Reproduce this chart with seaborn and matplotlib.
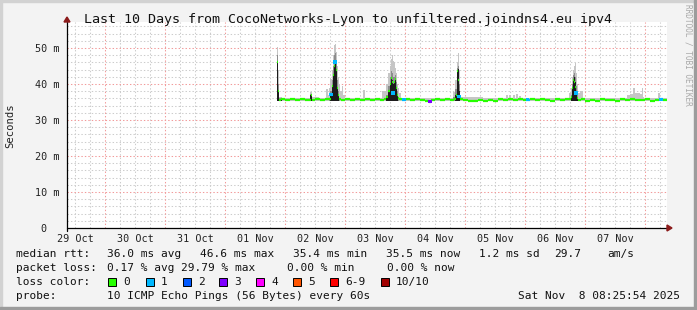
import numpy as np
import pandas as pd
import matplotlib
matplotlib.use("Agg")
import matplotlib.pyplot as plt
from matplotlib.patches import Rectangle, Polygon
from matplotlib.lines import Line2D
import seaborn as sns

# ---------------- data ----------------
TITLE = "Last 10 Days from CocoNetworks-Lyon to unfiltered.joindns4.eu ipv4"
day_labels = ["29 Oct", "30 Oct", "31 Oct", "01 Nov", "02 Nov",
              "03 Nov", "04 Nov", "05 Nov", "06 Nov", "07 Nov"]
label_hours = [-60, -36, -12, 12, 36, 60, 84, 108, 132, 156]   # noon of each day, hours from 01 Nov 00:00
x_range = [-63.2, 176.8]
y_max = 57.2
y_ticks = [0, 10, 20, 30, 40, 50]
y_tick_labels = ["0  ", "10 m", "20 m", "30 m", "40 m", "50 m"]

# median rtt (ms) and number of lost pings, hours since 01 Nov 00:00
med_h = [20.9, 21.3, 21.7, 23, 25, 27, 29, 31, 33, 34.0, 34.4, 35.2, 37, 39, 41, 42.0,
         42.4, 42.8, 43.2, 43.6, 44.0, 44.4, 44.8, 45.2, 45.6, 47, 49, 51, 53, 55, 57,
         59, 61, 63, 64.0, 64.8, 65.6, 66.0, 66.4, 66.8, 67.2, 67.6, 68.0, 68.4, 68.8,
         69.2, 70.0, 71.6, 73, 75, 77, 79, 81, 82, 83, 85, 87, 89, 91, 92.0, 92.4, 92.8,
         93.2, 93.6, 94.4, 96, 98, 100, 102, 104, 106, 108, 110, 112, 114, 116, 118, 120,
         121, 123, 125, 127, 129, 131, 133, 135, 137, 138.0, 138.4, 138.8, 139.2, 139.6,
         140.0, 140.4, 140.8, 141.6, 143, 145, 147, 149, 151, 153, 155, 157, 159, 161,
         163, 165, 167, 169, 171, 173, 174.4, 176, 176.8]
med_ms = [46.1, 38.0, 35.6, 35.7, 35.5, 35.8, 35.6, 35.7, 35.5, 35.6, 36.8, 35.6, 35.8, 35.5, 35.7, 35.9,
          37.0, 39.3, 42.5, 45.0, 46.1, 44.0, 39.0, 37.0, 35.7, 35.6, 35.8, 35.5, 35.7, 35.6, 35.9,
          35.6, 35.7, 35.5, 35.9, 36.5, 38.0, 40.0, 41.7, 40.5, 37.5, 40.5, 41.5, 39.0, 37.0,
          36.0, 35.7, 35.6, 35.8, 35.5, 35.7, 35.6, 35.4, 35.1, 35.6, 35.7, 35.5, 35.8, 35.6, 35.9, 37.0, 43.7,
          41.0, 36.4, 35.7, 35.6, 35.4, 35.3, 35.5, 35.2, 35.6, 35.4, 35.7, 35.5, 35.8, 35.6, 35.7, 35.5,
          35.6, 35.8, 35.5, 35.7, 35.6, 35.4, 35.7, 35.5, 35.8, 35.9, 36.5, 39.0, 41.0, 40.5,
          39.2, 37.5, 36.0, 35.6, 35.7, 35.4, 35.6, 35.3, 35.7, 35.5, 35.6, 35.4, 35.7, 35.5,
          35.8, 35.6, 35.5, 35.7, 35.4, 35.6, 35.7, 35.5, 35.6]
med_loss = [0, 0, 0, 0, 0, 0, 0, 0, 0, 0, 0, 0, 0, 0, 0, 0,
            1, 0, 0, 0, 1, 0, 0, 0, 0, 0, 0, 0, 0, 0, 0,
            0, 0, 0, 0, 0, 0, 0, 0, 0, 1, 0, 0, 0, 0,
            0, 0, 1, 0, 0, 0, 0, 0, 3, 0, 0, 0, 0, 0, 0, 0, 0,
            0, 1, 0, 0, 0, 0, 0, 0, 0, 0, 0, 0, 0, 0, 0, 0,
            1, 0, 0, 0, 0, 0, 0, 0, 0, 0, 0, 0, 0, 0,
            0, 1, 0, 0, 0, 0, 0, 0, 0, 0, 0, 0, 0, 0,
            0, 0, 0, 0, 0, 0, 1, 0, 0]

# smoke (spread of the 10 pings), ms
smoke_h = [20.9, 21.3, 21.7, 24.0, 33.6, 34.4, 35.2, 40.0, 40.8, 41.2,
           41.6, 42.4, 42.8, 43.2, 43.6, 44.0, 44.4, 44.8, 45.2, 45.6,
           46.4, 46.8, 47.6, 48.4, 55.0, 55.6, 56.2, 62.0, 63.6, 64.8,
           65.6, 66.0, 66.4, 66.8, 67.2, 67.6, 68.0, 68.4, 68.8, 69.2,
           70.0, 71.0, 90.8, 91.6, 92.4, 92.8, 93.2, 93.6, 94.4, 112.0,
           112.8, 113.2, 114.0, 114.4, 115.6, 116.0, 116.8, 117.2, 118.0, 118.4,
           137.0, 138.0, 138.4, 138.8, 139.2, 139.6, 140.0, 140.4, 140.8, 141.6,
           142.4, 143.6, 160.0, 161.2, 162.4, 163.6, 164.0, 165.2, 166.4, 166.8,
           167.2, 168.0, 173.0, 173.6, 174.2, 176.8]
smoke_lo = [35.4, 35.4, 35.4, 35.4, 35.4, 35.3, 35.4, 35.4, 35.4, 35.4,
            35.4, 35.4, 35.4, 35.4, 35.4, 35.4, 35.4, 35.4, 35.4, 35.4,
            35.4, 35.4, 35.4, 35.4, 35.4, 35.4, 35.4, 35.4, 35.4, 35.4,
            35.4, 35.4, 35.4, 35.4, 35.4, 35.4, 35.4, 35.4, 35.4, 35.4,
            35.4, 35.4, 35.4, 35.4, 35.4, 35.4, 35.4, 35.4, 35.4, 35.4,
            35.4, 35.4, 35.4, 35.4, 35.4, 35.4, 35.4, 35.4, 35.4, 35.4,
            35.4, 35.4, 35.4, 35.4, 35.4, 35.4, 35.4, 35.4, 35.4, 35.4,
            35.4, 35.4, 35.4, 35.4, 35.4, 35.4, 35.4, 35.4, 35.4, 35.4,
            35.4, 35.4, 35.4, 35.4, 35.4, 35.4]
smoke_hi = [50.3, 44.0, 36.5, 36.0, 36.0, 37.8, 36.3, 36.0, 38.5, 37.0,
            39.0, 41.5, 44.0, 48.0, 50.8, 51.0, 49.0, 45.0, 42.0, 40.0,
            38.0, 39.5, 37.0, 36.0, 36.0, 38.3, 36.0, 36.0, 38.0, 40.0,
            43.0, 45.0, 47.0, 48.0, 46.5, 46.0, 44.5, 43.0, 40.0, 39.0,
            37.5, 36.0, 36.0, 37.8, 41.0, 46.0, 48.6, 44.0, 36.5, 36.0,
            36.9, 36.0, 37.0, 36.0, 36.8, 36.0, 37.2, 36.0, 36.7, 36.0,
            36.0, 37.5, 39.0, 42.0, 44.0, 45.0, 45.8, 43.0, 40.0, 37.5,
            38.0, 36.0, 36.0, 37.0, 37.2, 38.9, 37.4, 37.6, 37.3, 39.0,
            36.5, 36.0, 36.0, 37.6, 36.0, 36.0]
smoke_mid = [48.0, 40.0, 36.0, 35.4, 35.4, 37.2, 35.4, 35.4, 35.4, 35.4,
             36.0, 38.0, 41.0, 45.0, 48.0, 48.5, 46.5, 41.0, 38.0, 36.0,
             35.4, 35.4, 35.4, 35.4, 35.4, 35.4, 35.4, 35.4, 35.4, 37.0,
             39.5, 42.0, 43.5, 43.0, 42.0, 42.0, 42.5, 40.5, 38.0, 36.5,
             35.4, 35.4, 35.4, 36.5, 38.5, 44.5, 45.0, 40.0, 35.4, 35.4,
             35.4, 35.4, 35.4, 35.4, 35.4, 35.4, 35.4, 35.4, 35.4, 35.4,
             35.4, 35.4, 37.0, 40.0, 42.5, 43.0, 42.0, 39.5, 37.0, 35.4,
             35.4, 35.4, 35.4, 35.4, 35.4, 35.4, 35.4, 35.4, 35.4, 35.4,
             35.4, 35.4, 35.4, 35.4, 35.4, 35.4]
smoke_dark = [46.1, 38.0, 35.6, 35.4, 35.4, 36.8, 35.4, 35.4, 35.4, 35.4,
              35.4, 37.0, 39.3, 42.5, 45.0, 46.1, 44.0, 39.0, 37.0, 35.4,
              35.4, 35.4, 35.4, 35.4, 35.4, 35.4, 35.4, 35.4, 35.4, 36.5,
              38.0, 40.0, 41.7, 41.0, 40.0, 40.5, 41.5, 39.0, 37.0, 35.4,
              35.4, 35.4, 35.4, 35.4, 37.0, 43.7, 44.2, 38.0, 35.4, 35.4,
              35.4, 35.4, 35.4, 35.4, 35.4, 35.4, 35.4, 35.4, 35.4, 35.4,
              35.4, 35.4, 36.5, 39.0, 41.5, 42.0, 40.5, 38.0, 36.0, 35.4,
              35.4, 35.4, 35.4, 35.4, 35.4, 35.4, 35.4, 35.4, 35.4, 35.4,
              35.4, 35.4, 35.4, 35.4, 35.4, 35.4]

loss_labels = ["0", "1", "2", "3", "4", "5", "6-9", "10/10"]
loss_colors = ["#26ff00", "#00b8ff", "#0059ff", "#7e00ff", "#ff00ff", "#ff5500", "#ff0000", "#a10000"]

rtt_items = ["36.0 ms avg", "46.6 ms max", "35.4 ms min", "35.5 ms now", "1.2 ms sd", "29.7", "am/s"]
loss_items = ["0.17 % avg", "29.79 % max", "0.00 % min", "0.00 % now"]
probe_text = "10 ICMP Echo Pings (56 Bytes) every 60s"
stamp_text = "Sat Nov  8 08:25:54 2025"

# ---------------- layout ----------------
W, H = 697, 310
sns.set_theme(style="white")
plt.rcParams['font.family'] = ['DejaVu Sans Mono', 'DejaVu Sans']
plt.rcParams['lines.scale_dashes'] = False

fig = plt.figure(figsize=(W / 100, H / 100), dpi=100, facecolor="#f3f3f3")

def fx(px):
    return px / W

def fy(py):
    return 1 - py / H

# frame borders
fig.patches.append(Rectangle((0, 0), fx(2), 1, transform=fig.transFigure, color="#d2d2d2", zorder=0))
fig.patches.append(Rectangle((0, fy(2)), 1, 2 / H, transform=fig.transFigure, color="#d2d2d2", zorder=0))
fig.patches.append(Rectangle((fx(694), 0), 3 / W, 1, transform=fig.transFigure, color="#9c9c9c", zorder=0))
fig.patches.append(Rectangle((0, 0), 1, 3 / H, transform=fig.transFigure, color="#9c9c9c", zorder=0))

ax = fig.add_axes([fx(67), fy(228), (667 - 67) / W, (228 - 22) / H])
ax.set_facecolor("white")
ax.set_xlim(*x_range)
ax.set_ylim(0, y_max)

# grid
minor_x = [h for h in range(-60, 177, 6) if h % 24 != 0]
major_x = [h for h in range(-48, 177, 24)]
minor_y = [v for v in range(2, 57, 2) if v % 10 != 0]
major_y = [10, 20, 30, 40, 50]
grid_minor = dict(color="#cccccc", lw=0.75, ls=(0, (1, 1.5)), zorder=1)
grid_major = dict(color="#f29a9a", lw=0.75, ls=(0, (1, 1.5)), zorder=1)
for h in minor_x:
    ax.axvline(h, **grid_minor)
for v in minor_y:
    ax.axhline(v, **grid_minor)
for h in major_x:
    ax.axvline(h, **grid_major)
for v in major_y:
    ax.axhline(v, **grid_major)

# smoke
ax.fill_between(smoke_h, smoke_lo, smoke_hi, step="mid", color="#c6c6c6", lw=0, zorder=2)
ax.fill_between(smoke_h, smoke_lo, smoke_mid, step="mid", color="#8c8c8c", lw=0, zorder=3)
ax.fill_between(smoke_h, smoke_lo, smoke_dark, step="mid", color="#1c1c1c", lw=0, zorder=4)

# median, drawn as per-sample bands (no vertical risers)
hh = np.array(med_h, dtype=float)
edges = np.concatenate([[hh[0] - 0.2], (hh[:-1] + hh[1:]) / 2, [hh[-1]]])
loss_idx = []
for n in med_loss:
    if n <= 5:
        loss_idx.append(n)
    elif n < 10:
        loss_idx.append(6)
    else:
        loss_idx.append(7)
seg_colors = [loss_colors[i] for i in loss_idx]
ax.hlines(med_ms, edges[:-1], edges[1:], colors=seg_colors, lw=1.6, zorder=5, capstyle="butt")

df_loss = pd.DataFrame({"h": med_h, "ms": med_ms, "cls": [loss_labels[i] for i in loss_idx]})
df_loss = df_loss[df_loss["cls"] != "0"]
sns.scatterplot(data=df_loss, x="h", y="ms", hue="cls",
                palette={l: c for l, c in zip(loss_labels, loss_colors)},
                marker="s", s=5, linewidth=0, legend=False, ax=ax, zorder=6)

# axes styling
for s in ["top", "right", "left", "bottom"]:
    ax.spines[s].set_visible(False)
ax.set_xlabel("")
ax.set_ylabel("")
ax.set_xticks(label_hours, day_labels)
ax.set_yticks(y_ticks, y_tick_labels)
ax.tick_params(axis="x", length=0, pad=4, labelsize=7.3, colors="#222222")
ax.tick_params(axis="y", length=0, pad=5.5, labelsize=7.3, colors="#222222")

# axis lines and arrows (figure pixels)
fig.lines.append(Line2D([fx(67), fx(667)], [fy(228), fy(228)], transform=fig.transFigure, color="black", lw=0.9, zorder=10))
fig.lines.append(Line2D([fx(67), fx(67)], [fy(231), fy(22)], transform=fig.transFigure, color="black", lw=0.9, zorder=10))
fig.patches.append(Polygon([[fx(667), fy(225)], [fx(667), fy(231)], [fx(672), fy(228)]],
                           closed=True, transform=fig.transFigure, color="#8b1a1a", zorder=11))
fig.patches.append(Polygon([[fx(64), fy(22)], [fx(70), fy(22)], [fx(67), fy(17)]],
                           closed=True, transform=fig.transFigure, color="#8b1a1a", zorder=11))

# titles
fig.text(fx(348), fy(19), TITLE, ha="center", va="center", fontsize=9.6, color="#111111")
fig.text(fx(10), fy(126), "Seconds", ha="center", va="center", rotation=90, fontsize=7.6, color="#222222")
fig.text(fx(688), fy(4), "RRDTOOL / TOBI OETIKER", ha="center", va="top", rotation=-90,
         fontsize=5.6, color="#a8a8a8")

# legend block
fs = 8.0
tc = "#111111"
fig.text(fx(16), fy(254), "median rtt:", ha="left", va="center", fontsize=fs, color=tc)
for txt, px in zip(rtt_items, [107, 200, 293, 386, 479, 554, 607]):
    fig.text(fx(px), fy(254), txt, ha="left", va="center", fontsize=fs, color=tc)

fig.text(fx(16), fy(268), "packet loss:", ha="left", va="center", fontsize=fs, color=tc)
for txt, px in zip(loss_items, [107, 181, 287, 387]):
    fig.text(fx(px), fy(268), txt, ha="left", va="center", fontsize=fs, color=tc)

fig.text(fx(16), fy(282), "loss color:", ha="left", va="center", fontsize=fs, color=tc)
box_x = [108, 146, 183, 219, 256, 293, 330, 381]
for lab, col, bx in zip(loss_labels, loss_colors, box_x):
    fig.patches.append(Rectangle((fx(bx), fy(286)), 8 / W, 8 / H, transform=fig.transFigure,
                                 facecolor=col, edgecolor="black", lw=0.7, zorder=5))
    fig.text(fx(bx + 15), fy(282), lab, ha="left", va="center", fontsize=fs, color=tc)

fig.text(fx(16), fy(296), "probe:", ha="left", va="center", fontsize=fs, color=tc)
fig.text(fx(107), fy(296), probe_text, ha="left", va="center", fontsize=fs, color=tc)
fig.text(fx(680), fy(296), stamp_text, ha="right", va="center", fontsize=fs, color=tc)

fig.savefig("out.png", dpi=100, facecolor=fig.get_facecolor())
